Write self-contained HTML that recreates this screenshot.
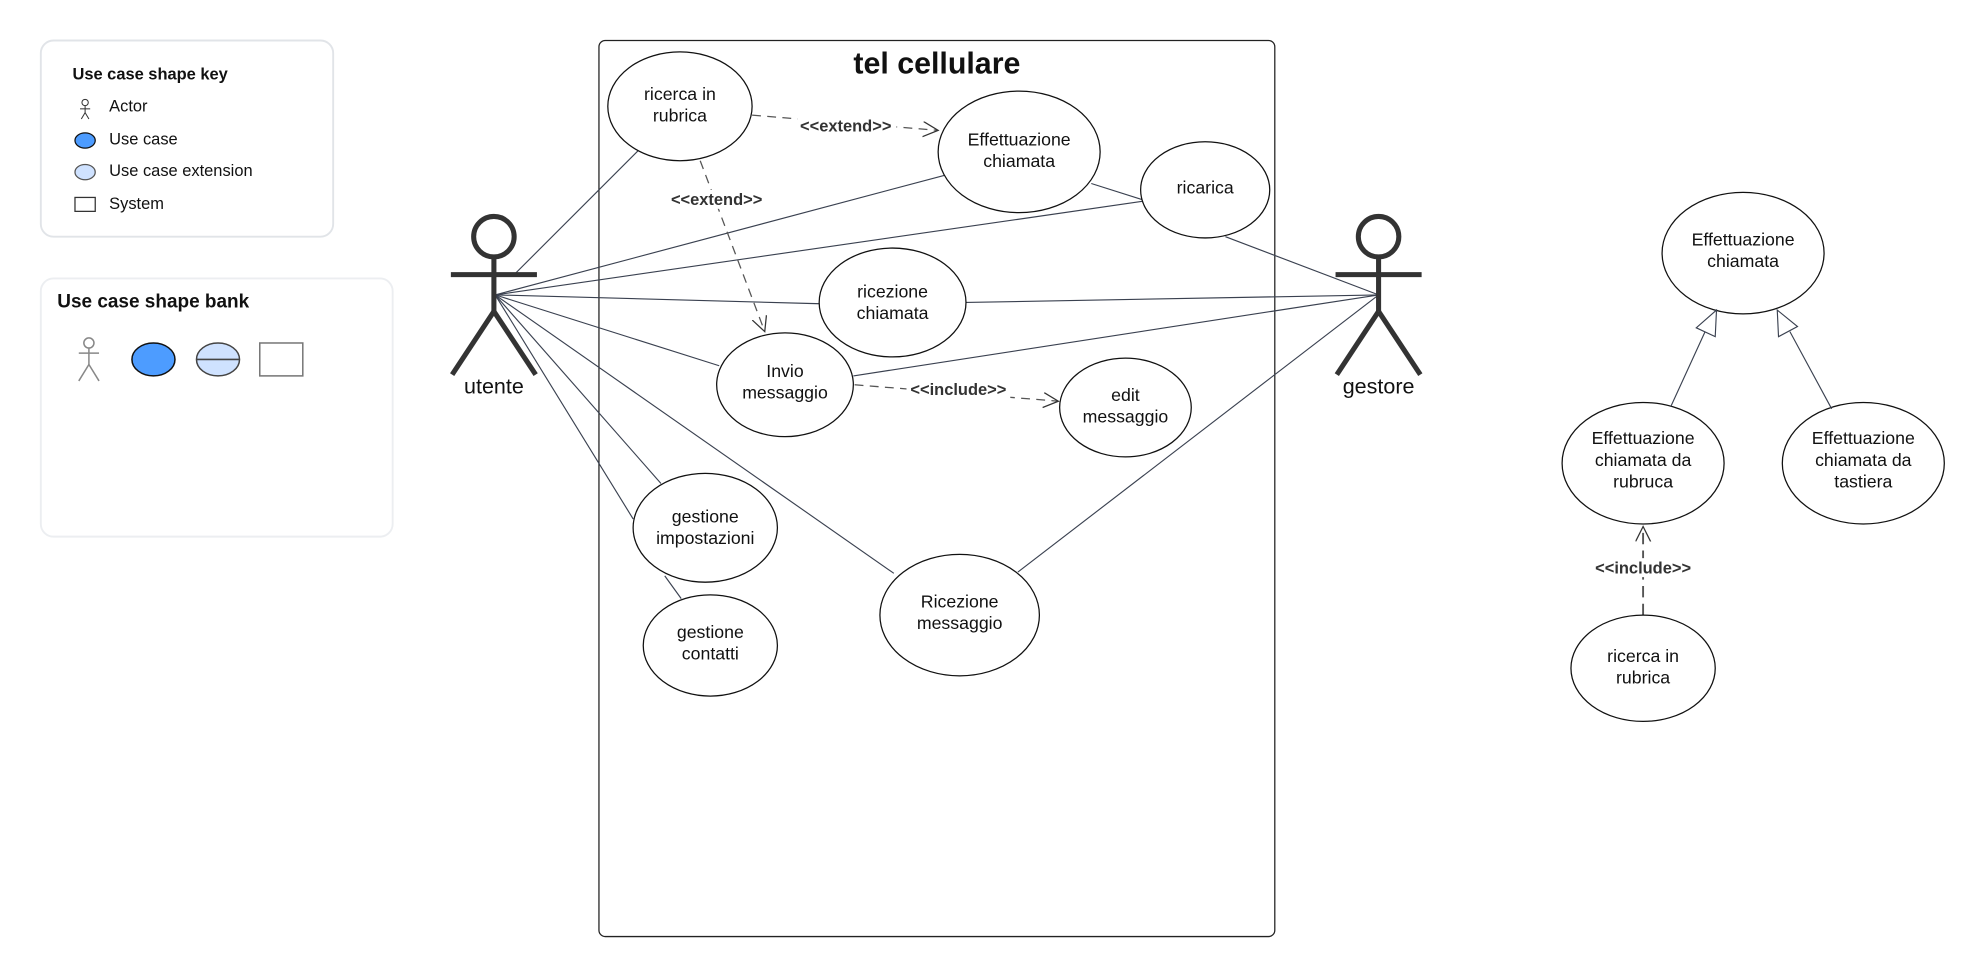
<!DOCTYPE html>
<html><head><meta charset="utf-8"><style>
html,body{margin:0;padding:0;background:#fff;}
svg{display:block;}
text{font-family:"Liberation Sans",sans-serif;fill:#111;}
</style></head><body>
<svg width="1975" height="972" viewBox="0 0 1560 768" xmlns="http://www.w3.org/2000/svg">
<defs>
<marker id="oa" markerWidth="14" markerHeight="14" refX="12" refY="6" orient="auto" markerUnits="userSpaceOnUse">
<path d="M0,0 L12,6 L0,12" fill="none" stroke="#333" stroke-width="1"/></marker>
</defs>
<!-- key box -->
<rect x="32" y="32" width="231" height="155" rx="10" fill="#fff" stroke="#e1e4e8" stroke-width="1.5"/>
<text x="57" y="63" font-size="13" font-weight="bold">Use case shape key</text>
<g stroke="#333" stroke-width="0.8" fill="none">
<circle cx="67" cy="81" r="2.5"/><line x1="67" y1="83.5" x2="67" y2="89"/><line x1="63" y1="86" x2="71" y2="86"/><line x1="67" y1="89" x2="64" y2="94"/><line x1="67" y1="89" x2="70" y2="94"/>
</g>
<ellipse cx="67" cy="111" rx="8" ry="6" fill="#4d9cff" stroke="#111" stroke-width="1"/>
<ellipse cx="67" cy="136" rx="8" ry="6" fill="#cfe2ff" stroke="#555" stroke-width="1"/>
<rect x="59" y="156" width="16" height="11" fill="#fff" stroke="#333" stroke-width="1"/>
<text x="86" y="88" font-size="13">Actor</text>
<text x="86" y="114" font-size="13">Use case</text>
<text x="86" y="139" font-size="13">Use case extension</text>
<text x="86" y="165" font-size="13">System</text>
<!-- bank -->
<rect x="32" y="220" width="278" height="204" rx="10" fill="#fff" stroke="#eceef1" stroke-width="1.5"/>
<text x="45" y="243" font-size="15" font-weight="bold">Use case shape bank</text>
<g stroke="#888" stroke-width="1.2" fill="none">
<circle cx="70" cy="271" r="4"/><line x1="70" y1="275" x2="70" y2="288"/><line x1="62" y1="279" x2="78" y2="279"/><line x1="70" y1="288" x2="62" y2="301"/><line x1="70" y1="288" x2="78" y2="301"/>
</g>
<ellipse cx="121" cy="284" rx="17" ry="13" fill="#4d9cff" stroke="#111" stroke-width="1.2"/>
<ellipse cx="172" cy="284" rx="17" ry="13" fill="#cfe2ff" stroke="#444" stroke-width="1.2"/>
<line x1="155" y1="284" x2="189" y2="284" stroke="#444" stroke-width="1.2"/>
<rect x="205" y="271" width="34" height="26" fill="#fff" stroke="#777" stroke-width="1.2"/>
<!-- system -->
<rect x="473" y="32" width="534" height="708" rx="5" fill="none" stroke="#222" stroke-width="1"/>
<text x="740" y="58" font-size="24" font-weight="bold" text-anchor="middle">tel cellulare</text>
<!-- association lines -->
<g stroke="#3a4150" stroke-width="0.9">
<line x1="406" y1="217" x2="505" y2="118"/>
<line x1="391" y1="233" x2="748" y2="138"/>
<line x1="391" y1="233" x2="903" y2="159"/>
<line x1="391" y1="233" x2="648" y2="240"/>
<line x1="391" y1="233" x2="568" y2="289"/>
<line x1="391" y1="233" x2="522" y2="382"/>
<line x1="391" y1="233" x2="500" y2="410"/>
<line x1="391" y1="233" x2="706" y2="453"/>
<line x1="525" y1="455" x2="538" y2="473"/>
<line x1="862" y1="145" x2="903" y2="158"/>
<line x1="968" y1="187" x2="1089" y2="233"/>
<line x1="763" y1="239" x2="1089" y2="233"/>
<line x1="674" y1="297" x2="1089" y2="233"/>
<line x1="804" y1="452" x2="1089" y2="233"/>
</g>
<!-- dashed -->
<g stroke="#555" stroke-width="1" stroke-dasharray="7,5" fill="none">
<line x1="594" y1="91" x2="741" y2="103" marker-end="url(#oa)"/>
<line x1="553" y1="127" x2="604" y2="262" marker-end="url(#oa)"/>
<line x1="675" y1="304" x2="836" y2="317" marker-end="url(#oa)"/>
<line x1="1298" y1="486" x2="1298" y2="416" marker-end="url(#oa)" stroke-dasharray="9,5" stroke-width="1.5"/>
</g>
<g font-size="13" font-weight="bold" text-anchor="middle">
<rect x="630" y="92" width="78" height="15" fill="#fff"/>
<text x="668" y="104" style="fill:#333">&lt;&lt;extend&gt;&gt;</text>
<rect x="527" y="150" width="78" height="15" fill="#fff"/>
<text x="566" y="162" style="fill:#333">&lt;&lt;extend&gt;&gt;</text>
<rect x="716" y="300" width="82" height="15" fill="#fff"/>
<text x="757" y="312" style="fill:#333">&lt;&lt;include&gt;&gt;</text>
<rect x="1256" y="441" width="84" height="15" fill="#fff"/>
<text x="1298" y="453" style="fill:#333">&lt;&lt;include&gt;&gt;</text>
</g>
<!-- use cases -->
<g fill="#fff" stroke="#111" stroke-width="1">
<ellipse cx="537" cy="84" rx="57" ry="43"/>
<ellipse cx="805" cy="120" rx="64" ry="48"/>
<ellipse cx="952" cy="150" rx="51" ry="38"/>
<ellipse cx="705" cy="239" rx="58" ry="43"/>
<ellipse cx="620" cy="304" rx="54" ry="41"/>
<ellipse cx="889" cy="322" rx="52" ry="39"/>
<ellipse cx="557" cy="417" rx="57" ry="43"/>
<ellipse cx="561" cy="510" rx="53" ry="40"/>
<ellipse cx="758" cy="486" rx="63" ry="48"/>
<ellipse cx="1377" cy="200" rx="64" ry="48"/>
<ellipse cx="1298" cy="366" rx="64" ry="48"/>
<ellipse cx="1472" cy="366" rx="64" ry="48"/>
<ellipse cx="1298" cy="528" rx="57" ry="42"/>
</g>
<g font-size="14" text-anchor="middle">
<text x="537" y="79">ricerca in</text><text x="537" y="96">rubrica</text>
<text x="805" y="115">Effettuazione</text><text x="805" y="132">chiamata</text>
<text x="952" y="153">ricarica</text>
<text x="705" y="235">ricezione</text><text x="705" y="252">chiamata</text>
<text x="620" y="298">Invio</text><text x="620" y="315">messaggio</text>
<text x="889" y="317">edit</text><text x="889" y="334">messaggio</text>
<text x="557" y="413">gestione</text><text x="557" y="430">impostazioni</text>
<text x="561" y="504">gestione</text><text x="561" y="521">contatti</text>
<text x="758" y="480">Ricezione</text><text x="758" y="497">messaggio</text>
<text x="1377" y="194">Effettuazione</text><text x="1377" y="211">chiamata</text>
<text x="1298" y="351">Effettuazione</text><text x="1298" y="368">chiamata da</text><text x="1298" y="385">rubruca</text>
<text x="1472" y="351">Effettuazione</text><text x="1472" y="368">chiamata da</text><text x="1472" y="385">tastiera</text>
<text x="1298" y="523">ricerca in</text><text x="1298" y="540">rubrica</text>
</g>
<!-- generalization -->
<g stroke="#3a4150" stroke-width="0.9" fill="#fff">
<line x1="1320" y1="321" x2="1347" y2="262"/>
<polygon points="1356,245 1355,266 1340,259"/>
<line x1="1447" y1="323" x2="1414" y2="262"/>
<polygon points="1404,245 1420,258 1405,266"/>
</g>
<!-- actors -->
<g stroke="#333" stroke-width="4" fill="none">
<circle cx="390" cy="187" r="16"/>
<line x1="390" y1="203" x2="390" y2="246"/>
<line x1="356" y1="217" x2="424" y2="217"/>
<line x1="390" y1="246" x2="357" y2="296"/>
<line x1="390" y1="246" x2="423" y2="296"/>
<circle cx="1089" cy="187" r="16"/>
<line x1="1089" y1="203" x2="1089" y2="246"/>
<line x1="1055" y1="217" x2="1123" y2="217"/>
<line x1="1089" y1="246" x2="1056" y2="296"/>
<line x1="1089" y1="246" x2="1122" y2="296"/>
</g>
<text x="390" y="311" font-size="17" text-anchor="middle">utente</text>
<text x="1089" y="311" font-size="17" text-anchor="middle">gestore</text>
</svg>
</body></html>
